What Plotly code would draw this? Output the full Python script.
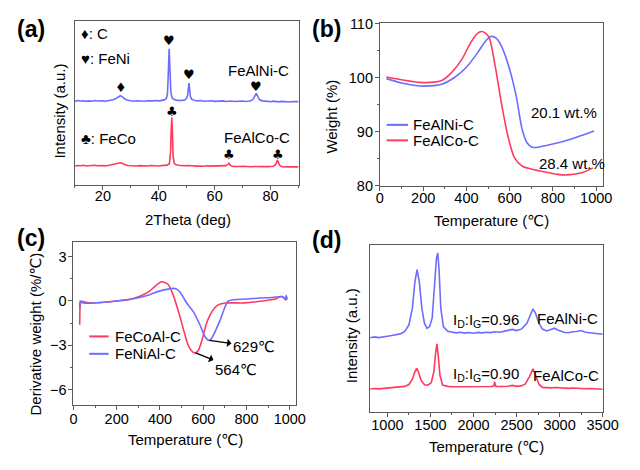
import plotly.graph_objects as go

BLUE = "#6e6cff"
RED = "#ff3a5e"
FONT = "Liberation Sans, Arial, DejaVu Sans, Noto Sans CJK SC"
AXC = "#5a5a5a"

# ---------------- (a) XRD ----------------
xrd_ni_2theta = [10, 11, 12, 13, 14, 15, 16, 17, 18, 19, 20, 21, 22, 23, 24, 25, 25.6, 26.2, 26.8, 27.4, 28, 29, 30, 31, 32, 33, 34,
                 35, 36, 37, 38, 39, 40, 41, 42, 42.7, 43.1, 43.4, 43.7, 44.0, 44.3, 44.7, 45.3, 46, 47, 48, 49, 49.8, 50.3,
                 50.6, 50.8, 51.0, 51.3, 51.7, 52.3, 53, 54, 55, 56, 57, 58, 59, 60, 61, 62, 63, 64, 65, 66, 67, 68, 69,
                 70, 71, 72, 73, 73.8, 74.4, 74.9, 75.4, 76, 77, 78, 79, 80, 81, 82, 83, 84, 85, 86, 87, 88, 89, 90]
xrd_ni_int = [51.0, 51.4, 51.1, 51.3, 50.9, 51.2, 51.0, 51.4, 51.1, 51.3, 51.2, 51.0, 51.3, 51.5, 52.0, 53.0, 53.9, 54.3, 53.8, 53.0, 52.2, 51.6, 51.3, 51.0, 51.3, 51.1, 51.2,
              51.0, 51.3, 51.1, 51.2, 51.4, 51.2, 51.5, 51.8, 52.6, 55.5, 68.0, 83.0, 70.0, 57.0, 53.2, 52.2, 51.8, 51.4, 51.5, 51.6, 52.3, 54.5,
              59.0, 62.0, 58.5, 54.0, 52.2, 51.6, 51.4, 51.2, 51.4, 51.0, 51.2, 51.0, 51.3, 50.9, 51.1, 51.0, 51.2, 50.8, 51.0, 51.1, 50.8, 51.0, 50.9,
              51.1, 50.8, 51.0, 51.3, 52.3, 54.2, 55.7, 54.0, 52.0, 51.2, 50.9, 51.0, 50.7, 51.0, 50.8, 50.6, 50.9, 50.7, 50.8, 50.5, 50.8, 50.6, 50.7]

xrd_co_2theta = [10, 11, 12, 13, 14, 15, 16, 17, 18, 19, 20, 21, 22, 23, 24, 25, 25.6, 26.2, 26.8, 27.4, 28, 29, 30, 31, 32, 33, 34,
                 35, 36, 37, 38, 39, 40, 41, 42, 43, 43.8, 44.2, 44.45, 44.65, 44.85, 45.1, 45.5, 46, 47, 48, 49, 50, 51, 52,
                 53, 54, 55, 56, 57, 58, 59, 60, 61, 62, 63, 64, 64.7, 65.1, 65.5, 66, 67, 68, 69, 70, 71, 72, 73, 74,
                 75, 76, 77, 78, 79, 80, 81, 81.8, 82.2, 82.5, 82.9, 83.4, 84, 85, 86, 87, 88, 89, 90]
xrd_co_int = [11.5, 11.8, 11.6, 11.9, 11.5, 11.7, 11.6, 11.9, 11.6, 11.8, 11.7, 11.5, 11.8, 12.0, 12.3, 12.8, 13.2, 13.4, 13.1, 12.6, 12.2, 11.8, 11.6, 11.8, 11.5, 11.7, 11.5,
              11.7, 11.5, 11.8, 11.6, 11.7, 11.5, 11.7, 11.8, 12.0, 12.8, 20.0, 34.0, 41.0, 33.0, 18.0, 13.2, 12.3, 11.9, 11.7, 11.6, 11.8, 11.5, 11.6,
              11.4, 11.6, 11.5, 11.3, 11.6, 11.4, 11.5, 11.3, 11.5, 11.4, 11.6, 11.7, 12.4, 13.1, 12.1, 11.4, 11.2, 11.4, 11.2, 11.3, 11.1, 11.3, 11.0, 11.2,
              11.1, 11.0, 11.2, 11.0, 11.1, 11.2, 11.3, 12.4, 14.3, 15.1, 13.2, 11.6, 11.1, 10.9, 11.1, 10.9, 11.0, 10.8, 10.9]

xrd_mark_2theta = [26.3, 43.7, 50.8, 74.9, 44.6, 65.2, 82.5]
xrd_mark_int = [59.6, 88.0, 67.0, 60.0, 44.8, 18.4, 18.4]
xrd_mark_sym = ["♦", "♥", "♥", "♥", "♣", "♣", "♣"]

# ---------------- (b) TGA ----------------
tga_temp_ni = [30, 100, 185, 250, 289, 348, 400, 452, 490, 515, 540, 563, 600, 630, 659, 681, 704, 730, 763, 820, 881, 940, 990]
tga_wt_ni = [99.8, 99.0, 98.45, 98.5, 98.8, 100.1, 101.9, 104.6, 106.8, 107.6, 107.2, 105.7, 101.5, 96.6, 90.2, 87.9, 87.1, 87.1, 87.4, 87.9, 88.6, 89.4, 90.1]
tga_temp_co = [30, 100, 185, 250, 289, 333, 378, 422, 450, 470, 488, 506, 533, 563, 593, 622, 659, 700, 733, 822, 867, 941, 985]
tga_wt_co = [100.1, 99.6, 99.1, 99.15, 99.5, 101.0, 103.3, 106.6, 108.1, 108.5, 108.2, 107.3, 102.1, 95.0, 89.0, 85.2, 83.6, 83.1, 82.8, 82.1, 82.0, 82.5, 83.3]

# ---------------- (c) DTG ----------------
dtg_temp_co = [29, 30, 33, 40, 69, 128, 201, 260, 304, 349, 378, 407, 437, 459, 488, 510, 532, 552, 564, 577, 595, 613, 635, 665, 701, 790, 863, 937, 959, 974, 985]
dtg_co = [-1.6, -0.6, -0.05, -0.03, -0.13, -0.1, 0.0, 0.1, 0.3, 0.63, 1.0, 1.3, 1.13, 0.48, -0.83, -2.0, -3.05, -3.45, -3.5, -3.35, -2.6, -1.6, -0.85, -0.3, -0.14, -0.13, -0.02, 0.15, 0.3, 0.2, 0.04]
dtg_temp_ni = [29, 31, 40, 69, 128, 201, 275, 349, 393, 437, 462, 478, 495, 525, 554, 584, 606, 620, 629, 640, 657, 679, 701, 716, 746, 800, 863, 920, 966, 978, 984, 988]
dtg_ni = [-0.5, 0.0, -0.12, -0.15, -0.1, 0.0, 0.15, 0.41, 0.65, 0.8, 0.85, 0.8, 0.55, -0.17, -0.72, -1.59, -2.35, -2.62, -2.66, -2.5, -2.0, -1.26, -0.39, 0.0, 0.09, 0.13, 0.2, 0.24, 0.3, 0.12, 0.37, 0.1]
dtg_peak_temp = [629, 564]
dtg_peak_val = [-2.66, -3.5]
dtg_peak_label = ["629℃", "564℃"]

# ---------------- (d) Raman ----------------
raman_shift_ni = [800, 850, 900, 950, 1000, 1050, 1100, 1150, 1200, 1250, 1290, 1320, 1345, 1370, 1400, 1430, 1460, 1490, 1520, 1550,
                  1570, 1585, 1600, 1620, 1650, 1700, 1750, 1800, 1850, 1900, 1950, 2000, 2050, 2100, 2150, 2200, 2250, 2300, 2350,
                  2400, 2450, 2500, 2560, 2620, 2660, 2690, 2720, 2760, 2800, 2850, 2900, 2940, 2980, 3050, 3100, 3150, 3200, 3250,
                  3300, 3350, 3400, 3450, 3500]
raman_int_ni = [44.3, 44.8, 44.4, 45.0, 45.2, 45.6, 46.0, 46.6, 48.0, 52.0, 62.0, 78.0, 85.0, 78.0, 62.0, 53.0, 50.0, 51.0, 56.0, 75.0,
                92.0, 95.0, 85.0, 62.0, 51.0, 48.2, 47.8, 47.2, 47.6, 47.1, 47.4, 47.0, 47.5, 47.2, 47.6, 47.4, 47.9, 47.6, 48.1,
                48.6, 49.3, 48.6, 49.6, 53.0, 58.5, 61.5, 59.0, 53.0, 49.5, 48.4, 49.3, 50.0, 49.0, 47.6, 47.3, 47.9, 48.0, 48.6,
                47.6, 47.4, 46.8, 47.0, 46.4]
raman_shift_co = [800, 850, 900, 950, 1000, 1050, 1100, 1150, 1200, 1250, 1290, 1320, 1340, 1360, 1390, 1430, 1470, 1510, 1540, 1560,
                  1575, 1590, 1610, 1640, 1700, 1750, 1800, 1850, 1900, 1950, 2000, 2050, 2100, 2150, 2200, 2235, 2245, 2260, 2300,
                  2350, 2400, 2450, 2500, 2550, 2600, 2650, 2690, 2720, 2760, 2800, 2850, 2900, 2950, 3000, 3050, 3100, 3150, 3200,
                  3250, 3300, 3350, 3400, 3450, 3500]
raman_int_co = [13.6, 13.9, 13.7, 14.0, 14.0, 14.3, 14.5, 14.8, 15.2, 16.3, 19.5, 24.0, 26.0, 24.0, 19.0, 16.2, 16.0, 17.5, 24.0, 35.0,
                40.7, 34.0, 22.0, 16.0, 15.2, 15.0, 15.0, 15.2, 14.9, 15.1, 14.9, 15.1, 15.0, 15.2, 15.1, 15.4, 17.8, 15.2, 15.0,
                15.1, 15.3, 15.8, 15.2, 15.5, 16.5, 21.0, 25.7, 22.0, 16.5, 14.6, 14.4, 14.3, 14.5, 14.2, 14.3, 14.0, 14.2, 14.0,
                14.1, 13.8, 13.9, 13.7, 13.6, 13.5]

fig = go.Figure()
LW = 1.6

# (a)
fig.add_trace(go.Scatter(x=xrd_ni_2theta, y=xrd_ni_int, mode="lines", line=dict(color=BLUE, width=LW), xaxis="x", yaxis="y"))
fig.add_trace(go.Scatter(x=xrd_co_2theta, y=xrd_co_int, mode="lines", line=dict(color=RED, width=LW), xaxis="x", yaxis="y"))
# (b)
fig.add_trace(go.Scatter(x=tga_temp_ni, y=tga_wt_ni, mode="lines", line=dict(color=BLUE, width=LW, shape="spline", smoothing=0.8), xaxis="x2", yaxis="y2"))
fig.add_trace(go.Scatter(x=tga_temp_co, y=tga_wt_co, mode="lines", line=dict(color=RED, width=LW, shape="spline", smoothing=0.8), xaxis="x2", yaxis="y2"))
# (c)
fig.add_trace(go.Scatter(x=dtg_temp_co, y=dtg_co, mode="lines", line=dict(color=RED, width=LW, shape="spline", smoothing=0.6), xaxis="x3", yaxis="y3"))
fig.add_trace(go.Scatter(x=dtg_temp_ni, y=dtg_ni, mode="lines", line=dict(color=BLUE, width=LW, shape="spline", smoothing=0.6), xaxis="x3", yaxis="y3"))
# (d)
fig.add_trace(go.Scatter(x=raman_shift_ni, y=raman_int_ni, mode="lines", line=dict(color=BLUE, width=LW), xaxis="x4", yaxis="y4"))
fig.add_trace(go.Scatter(x=raman_shift_co, y=raman_int_co, mode="lines", line=dict(color=RED, width=LW), xaxis="x4", yaxis="y4"))

TICKF = dict(size=14.5, color="black", family=FONT)


def ax(domain, rng, anchor, dtick=None, minor=None, labels=True, ticks=True, tick0=None, standoff=0):
    d = dict(domain=domain, range=rng, anchor=anchor, showline=True, linecolor=AXC, linewidth=1, mirror=True,
             showgrid=False, zeroline=False, tickfont=TICKF, fixedrange=True)
    if ticks and labels:
        d.update(ticks="outside", ticklen=4, tickcolor=AXC, dtick=dtick, showticklabels=True,
                 ticklabelstandoff=standoff)
        if tick0 is not None:
            d["tick0"] = tick0
        if minor:
            d["minor"] = dict(dtick=minor, ticks="outside", ticklen=2, tickcolor=AXC, showgrid=False)
    else:
        d.update(ticks="", showticklabels=False)
    return d


fig.update_layout(
    width=640, height=470, margin=dict(l=0, r=0, t=0, b=0),
    paper_bgcolor="white", plot_bgcolor="white", showlegend=False,
    font=dict(family=FONT, color="black", size=15),
    xaxis=ax([0.1145, 0.475], [10, 90], "y", 20, 10, tick0=0, standoff=-6),
    yaxis=ax([0.6106, 0.9717], [0, 100], "x", labels=False),
    xaxis2=ax([0.6063, 0.9656], [0, 1030], "y2", 200, 100, tick0=0, standoff=-5),
    yaxis2=ax([0.6085, 0.966], [80, 110], "x2", 10, 5, tick0=0, standoff=-1),
    xaxis3=ax([0.112, 0.4714], [0, 1030], "y3", 200, 100, tick0=0, standoff=-3),
    yaxis3=ax([0.1264, 0.4851], [-7, 4], "x3", 3, 1.5, tick0=0, standoff=-1),
    xaxis4=ax([0.5906, 0.9656], [800, 3500], "y4", 500, 250, tick0=0, standoff=-4),
    yaxis4=ax([0.1106, 0.4787], [0, 100], "x4", labels=False),
)

ann = []


def txt(x, y, s, size=15, xanchor="center", yanchor="middle", angle=0, bold=False, color="black"):
    ann.append(dict(x=x, y=y, xref="paper", yref="paper", text=("<b>%s</b>" % s) if bold else s, showarrow=False,
                    xanchor=xanchor, yanchor=yanchor, textangle=angle,
                    font=dict(size=size, color=color, family=FONT)))


# XRD phase markers, placed in data coordinates
for t, v, s in zip(xrd_mark_2theta, xrd_mark_int, xrd_mark_sym):
    ann.append(dict(x=t, y=v, xref="x", yref="y", text=s, showarrow=False,
                    font=dict(size=13, color="black", family="DejaVu Sans")))

# panel labels
txt(0.04375, 0.9532, "(a)", 23, bold=True)
txt(0.5203, 0.9532, "(b)", 23, bold=True)
txt(0.04375, 0.4936, "(c)", 23, bold=True)
txt(0.5203, 0.4894, "(d)", 23, bold=True)

# axis titles
txt(0.2969, 0.534, "2Theta (deg)", 15)
txt(0.0891, 0.7723, "Intensity (a.u.)", 15, angle=-90)
txt(0.7859, 0.5319, "Temperature (℃)", 15)
txt(0.5281, 0.7617, "Weight (%)", 15, angle=-90)
txt(0.2922, 0.0489, "Temperature (℃)", 15)
txt(0.05, 0.2809, "Derivative weight (%/℃)", 15, angle=-90)
txt(0.7781, 0.034, "Temperature (℃)", 15)
txt(0.5609, 0.2787, "Intensity (a.u.)", 15, angle=-90)

# (a) texts
txt(0.1203, 0.9447, "♦: C", 15, xanchor="left")
txt(0.1203, 0.8879, "♥: FeNi", 15, xanchor="left")
txt(0.1203, 0.7128, "♣: FeCo", 15, xanchor="left")
txt(0.4625, 0.8624, "FeAlNi-C", 15, xanchor="right")
txt(0.4651, 0.7150, "FeAlCo-C", 15, xanchor="right")

# (b) texts
txt(0.6563, 0.7426, "FeAlNi-C", 15, xanchor="left")
txt(0.6563, 0.7085, "FeAlCo-C", 15, xanchor="left")
txt(0.8464, 0.7695, "20.1 wt.%", 15, xanchor="left")
txt(0.8594, 0.6574, "28.4 wt.%", 15, xanchor="left")

# (c) legend texts
txt(0.175, 0.2766, "FeCoAl-C", 15, xanchor="left")
txt(0.175, 0.2383, "FeNiAl-C", 15, xanchor="left")

# (d) texts
txt(0.7214, 0.3106, "I<sub>D</sub>:I<sub>G</sub>=0.96", 15, xanchor="left")
txt(0.9609, 0.317, "FeAlNi-C", 15, xanchor="right")
txt(0.7214, 0.1936, "I<sub>D</sub>:I<sub>G</sub>=0.90", 15, xanchor="left")
txt(0.9635, 0.19, "FeAlCo-C", 15, xanchor="right")

# (c) peak arrows
label_pos = [(834, -3.09), (751, -4.6)]
for t, v, lab, (lx, ly) in zip(dtg_peak_temp, dtg_peak_val, dtg_peak_label, label_pos):
    ann.append(dict(x=t, y=v, xref="x3", yref="y3", ax=lx, ay=ly, axref="x3", ayref="y3", text=lab,
                    showarrow=True, arrowhead=2, arrowsize=1, arrowwidth=1.4, arrowcolor="black", arrowside="start",
                    font=dict(size=15, color="black", family=FONT)))

fig.update_layout(annotations=ann)

# legend line samples
shapes = []
for (x0, x1, y, c) in [(0.6172, 0.6516, 0.7426, BLUE), (0.6172, 0.6516, 0.7085, RED),
                       (0.1375, 0.1688, 0.2766, RED), (0.1375, 0.1688, 0.2383, BLUE)]:
    shapes.append(dict(type="line", xref="paper", yref="paper", x0=x0, x1=x1, y0=y, y1=y,
                       line=dict(color=c, width=2)))
fig.update_layout(shapes=shapes)

fig.write_html("out.html", config={"displayModeBar": False},
               post_script="document.body.style.margin='0';document.body.style.overflow='hidden';")
